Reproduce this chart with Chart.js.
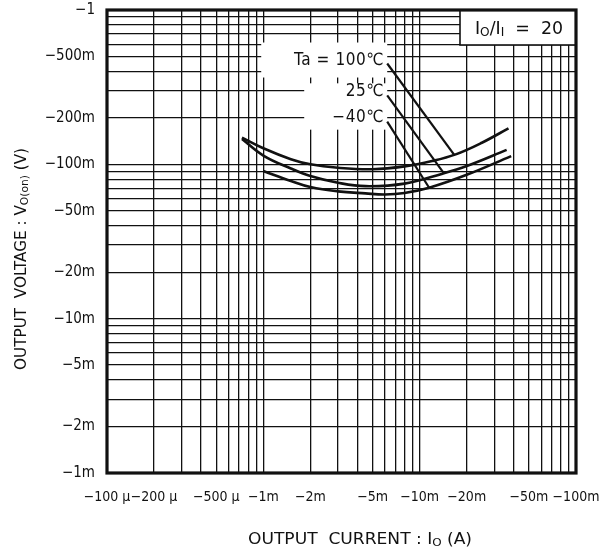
<!DOCTYPE html>
<html><head><meta charset="utf-8">
<script src="https://cdn.jsdelivr.net/npm/chart.js@4.4.1/dist/chart.umd.min.js"></script>
<style>html,body{margin:0;padding:0;background:#fff}#wrap{width:612px;height:551px;position:relative}</style>
</head><body><div id="wrap"><canvas id="c"></canvas></div>
<script>
const FONT = "'DejaVu Sans Condensed','Liberation Sans Narrow','Liberation Sans',sans-serif";

// Axis tick labels
const xTickValues = [-1e-4, -2e-4, -5e-4, -1e-3, -2e-3, -5e-3, -1e-2, -2e-2, -5e-2, -1e-1];
const xTickLabels = ['−100 µ', '−200 µ', '−500 µ', '−1m', '−2m', '−5m', '−10m', '−20m', '−50m', '−100m'];
const yTickValues = [-1, -0.5, -0.2, -0.1, -0.05, -0.02, -0.01, -0.005, -0.002, -0.001];
const yTickLabels = ['−1', '−500m', '−200m', '−100m', '−50m', '−20m', '−10m', '−5m', '−2m', '−1m'];

// Series: output current Io (A) vs output voltage Vo(on) (V)
const seriesNames = ['Ta = 100℃', '25℃', '−40℃'];
const io100 = [-0.73e-3, -1e-3, -1.5e-3, -2e-3, -3e-3, -5e-3, -8e-3, -12e-3, -17e-3, -25e-3, -37e-3];
const vo100 = [-0.149, -0.127, -0.108, -0.100, -0.095, -0.093, -0.097, -0.105, -0.116, -0.138, -0.171];
const io25 = [-0.73e-3, -1e-3, -1.5e-3, -2e-3, -3e-3, -4.5e-3, -8e-3, -14e-3, -20e-3, -36e-3];
const vo25 = [-0.146, -0.114, -0.094, -0.084, -0.076, -0.0722, -0.075, -0.087, -0.0975, -0.124];
const ioM40 = [-1e-3, -1.5e-3, -2e-3, -3e-3, -4.5e-3, -6e-3, -8e-3, -11.5e-3, -20e-3, -38.5e-3];
const voM40 = [-0.0905, -0.078, -0.0712, -0.0668, -0.0648, -0.0638, -0.0652, -0.0705, -0.0855, -0.113];

// Leader lines from labels to curves
const leaderStartI = [-6.2e-3, -6.2e-3, -6.2e-3];
const leaderStartV = [-0.45, -0.28, -0.189];
const leaderEndI = [-16.6e-3, -14.3e-3, -11.5e-3];
const leaderEndV = [-0.1155, -0.0874, -0.0705];

const condText = [{t: 'I'}, {t: 'O', sub: true}, {t: '/'}, {t: 'I'}, {t: 'I', sub: true}, {t: '  =  20'}];
const xTitle = [{t: 'OUTPUT  CURRENT : I'}, {t: 'O', sub: true}, {t: ' (A)'}];
const yTitle = [{t: 'OUTPUT  VOLTAGE : V'}, {t: 'O(on)', sub: true}, {t: ' (V)'}];

function gridValues(minExp, maxExp) {
  const out = [];
  for (let e = minExp; e < maxExp; e++) for (let m = 1; m < 10; m++) out.push(m * Math.pow(10, e));
  out.push(Math.pow(10, maxExp));
  return out;
}
function labelFor(vals, labels) {
  return function (value) {
    const i = vals.findIndex(v => Math.abs(Math.abs(v) - value) <= Math.abs(v) * 1e-6);
    return i >= 0 ? labels[i] : '';
  };
}
function pts(I, V) { return I.map((x, i) => ({x: Math.abs(x), y: Math.abs(V[i])})); }

// draws text made of normal and subscript parts; optional width to stretch to
function drawRich(ctx, parts, x, y, align, size, width) {
  let w = 0;
  parts.forEach(p => { ctx.font = (p.sub ? size * 0.7 : size) + 'px ' + FONT; p.w = ctx.measureText(p.t).width; w += p.w; });
  const k = width ? width / w : 1;
  ctx.save();
  ctx.translate(x, y);
  ctx.scale(k, 1);
  let cx = align === 'center' ? -w / 2 : (align === 'right' ? -w : 0);
  ctx.textAlign = 'left';
  ctx.textBaseline = 'alphabetic';
  parts.forEach(p => {
    ctx.font = (p.sub ? size * 0.7 : size) + 'px ' + FONT;
    ctx.fillText(p.t, cx, p.sub ? size * 0.12 : 0);
    cx += p.w;
  });
  ctx.restore();
}

const curveStyle = {borderColor: '#111', borderWidth: 2.6, pointRadius: 0, tension: 0.4, fill: false};
const datasets = [
  Object.assign({label: seriesNames[0], data: pts(io100, vo100)}, curveStyle),
  Object.assign({label: seriesNames[1], data: pts(io25, vo25)}, curveStyle),
  Object.assign({label: seriesNames[2], data: pts(ioM40, voM40)}, curveStyle)
];
leaderStartI.forEach((s, i) => {
  datasets.push({label: 'leader' + i, data: pts([s, leaderEndI[i]], [leaderStartV[i], leaderEndV[i]]),
    borderColor: '#111', borderWidth: 2.2, pointRadius: 0, tension: 0, fill: false});
});

const annot = {
  id: 'annot',
  beforeDatasetsDraw(chart) {
    const ctx = chart.ctx, xs = chart.scales.x, ys = chart.scales.y, a = chart.chartArea;
    ctx.save();
    const px = xs.getPixelForValue(Math.abs(leaderStartI[0]));
    const ty = leaderStartV.map(v => ys.getPixelForValue(Math.abs(v)) - 3);
    ctx.fillStyle = '#fff';
    ctx.fillRect(px - 126, ty[0] - 18, 126, 35);
    ctx.fillRect(px - 83, ty[1] - 9, 83, ty[2] - ty[1] + 20);
    ctx.fillStyle = '#111';
    ctx.font = '17px ' + FONT;
    ctx.letterSpacing = '0.6px';
    ctx.textAlign = 'right';
    ctx.textBaseline = 'middle';
    seriesNames.forEach((n, i) => ctx.fillText(n, px - 3, ty[i] - (i ? 1 : 0)));
    ctx.letterSpacing = '0px';
    const bw = 116, bh = 35;
    ctx.fillStyle = '#fff';
    ctx.fillRect(a.right - bw, a.top, bw, bh);
    ctx.strokeStyle = '#111';
    ctx.lineWidth = 1.6;
    ctx.strokeRect(a.right - bw, a.top, bw, bh);
    ctx.fillStyle = '#111';
    drawRich(ctx, condText, a.right - bw / 2 + 1, a.top + 24, 'center', 17, 88);
    ctx.restore();
  },
  afterDraw(chart) {
    const ctx = chart.ctx, a = chart.chartArea;
    ctx.save();
    ctx.strokeStyle = '#111';
    ctx.lineWidth = 3.2;
    ctx.strokeRect(a.left, a.top, a.right - a.left, a.bottom - a.top);
    ctx.fillStyle = '#111';
    drawRich(ctx, xTitle, 360, 544, 'center', 16, 224);
    ctx.translate(26, 259);
    ctx.rotate(-Math.PI / 2);
    drawRich(ctx, yTitle, 0, 0, 'center', 16, 222);
    ctx.restore();
  }
};

new Chart(document.getElementById('c'), {
  type: 'line',
  data: {datasets},
  options: {
    responsive: true,
    maintainAspectRatio: false,
    animation: false,
    layout: {padding: {top: 10, right: 36, left: 0, bottom: 0}},
    plugins: {legend: {display: false}, tooltip: {enabled: false}},
    scales: {
      x: {
        type: 'logarithmic', min: 1e-4, max: 1e-1,
        afterBuildTicks: s => { s.ticks = gridValues(-4, -1).map(v => ({value: v})); },
        afterFit: s => { s.height = 78; s.paddingLeft = 0; s.paddingRight = 0; },
        grid: {color: '#111', lineWidth: 1.3, drawTicks: false},
        border: {display: false},
        ticks: {autoSkip: false, maxRotation: 0, minRotation: 0, padding: 16, color: '#111',
          font: {family: FONT, size: 14}, callback: labelFor(xTickValues, xTickLabels)}
      },
      y: {
        type: 'logarithmic', min: 1e-3, max: 1,
        afterBuildTicks: s => { s.ticks = gridValues(-3, 0).map(v => ({value: v})); },
        afterFit: s => { s.width = 107; s.paddingTop = 0; s.paddingBottom = 0; },
        grid: {color: '#111', lineWidth: 1.3, drawTicks: false},
        border: {display: false},
        ticks: {autoSkip: false, padding: 12, color: '#111',
          font: {family: FONT, size: 15}, callback: labelFor(yTickValues, yTickLabels)}
      }
    }
  },
  plugins: [annot]
});
</script>
</body></html>
